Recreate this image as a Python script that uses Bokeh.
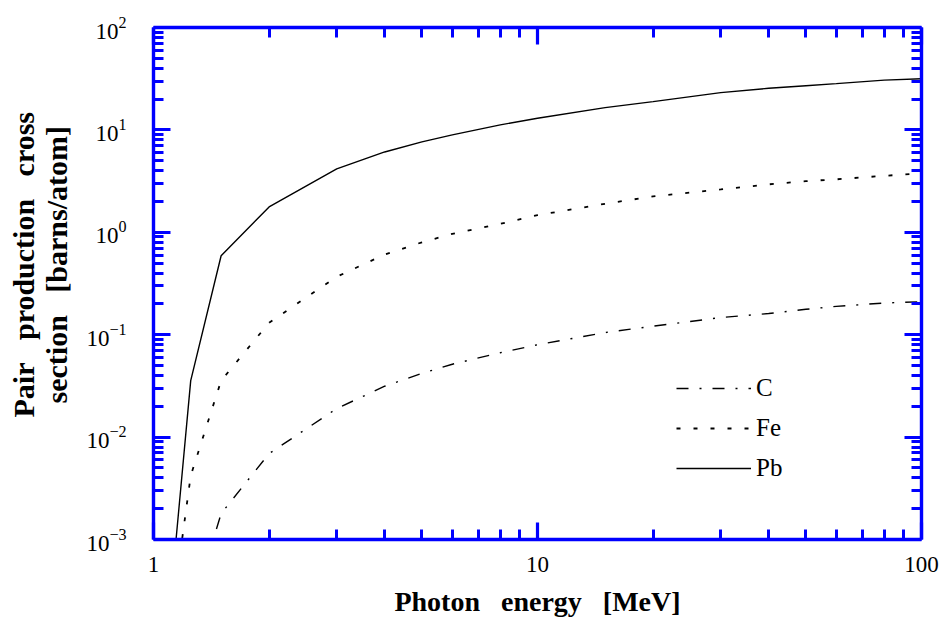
import math
from bokeh.plotting import figure
from bokeh.models import (LogAxis, FixedTicker, Legend, LegendItem, CustomJSTickFormatter,
                          LogTickFormatter, BasicTickFormatter)
from bokeh.embed import file_html
from bokeh.resources import INLINE

# ---------------- data ----------------
energy_mev = [1.022, 1.25, 1.5, 2, 3, 4, 5, 6, 8, 10, 15, 20, 30, 40, 50, 60, 80, 100]
sigma_c = [1.0e-6, 1.9e-4, 1.79e-3, 6.9e-3, 0.0190, 0.0314, 0.0419, 0.0515, 0.0667, 0.0798,
           0.105, 0.121, 0.147, 0.161, 0.177, 0.189, 0.204, 0.210]
sigma_fe = [1.6e-5, 4.2e-3, 0.0356, 0.131, 0.368, 0.607, 0.798, 0.966, 1.21, 1.47,
            1.90, 2.24, 2.62, 2.94, 3.16, 3.29, 3.56, 3.77]
sigma_pb = [1.0e-5, 0.0356, 0.59, 1.77, 4.17, 6.09, 7.64, 8.93, 11.2, 13.0,
            16.5, 18.9, 23.1, 25.5, 27.0, 28.3, 30.6, 31.6]
series_names = ["C", "Fe", "Pb"]

x_tick_values = [1, 10, 100]
y_tick_exponents = [-3, -2, -1, 0, 1, 2]

GAP = "\u00a0\u00a0\u00a0"
LEAD = "\u00a0" * 5   # lifts the centred y title slightly, as in the reference
x_title = GAP.join(["Photon", "energy", "[MeV]"])
y_title = (LEAD + GAP.join(["Pair", "production", "cross"]) + "\n"
           + LEAD + GAP.join(["section", "[barns/atom]"]))

# ---------------- styling ----------------
BLUE = "#0000FF"
FONT = "Liberation Serif"
X_MINOR = [m * 10.0 ** d for d in range(0, 2) for m in range(2, 10)]
Y_MINOR = [m * 10.0 ** d for d in range(-3, 2) for m in range(2, 10)]
Y_MAJOR = [10.0 ** e for e in y_tick_exponents]

p = figure(width=943, height=619, x_axis_type="log", y_axis_type="log",
           x_range=(1, 100), y_range=(1e-3, 1e2),
           output_backend="svg", toolbar_location=None,
           min_border_left=153, min_border_right=22, min_border_top=27, min_border_bottom=80)
p.outline_line_color = None
p.grid.visible = False
p.background_fill_color = "white"
p.border_fill_color = "white"

top_axis = LogAxis()
right_axis = LogAxis()
p.add_layout(top_axis, "above")
p.add_layout(right_axis, "right")


def style_axis(ax, ticks, minor):
    ax.ticker = FixedTicker(ticks=ticks, minor_ticks=minor)
    ax.axis_line_color = BLUE
    ax.axis_line_width = 3.4
    ax.major_tick_line_color = BLUE
    ax.major_tick_line_width = 3.2
    ax.major_tick_in = 17
    ax.major_tick_out = 0
    ax.minor_tick_line_color = BLUE
    ax.minor_tick_line_width = 3
    ax.minor_tick_in = 10
    ax.minor_tick_out = 0
    ax.major_label_text_font = FONT
    ax.major_label_text_color = "black"
    ax.axis_label_text_font = FONT
    ax.axis_label_text_font_style = "bold"
    ax.axis_label_text_color = "black"


style_axis(top_axis, x_tick_values, X_MINOR)
style_axis(right_axis, Y_MAJOR, Y_MINOR)
for ax in (top_axis, right_axis):
    ax.formatter = CustomJSTickFormatter(code="return ''")
    ax.major_label_text_color = None
    ax.major_label_text_font_size = "1px"
    ax.major_label_standoff = 0

xa = p.below[0]
style_axis(xa, x_tick_values, X_MINOR)
xa.formatter = BasicTickFormatter()
xa.major_label_text_font_size = "23px"
xa.major_label_standoff = 17
xa.axis_label = x_title
xa.axis_label_text_font_size = "28px"
xa.axis_label_standoff = 11

ya = p.left[0]
style_axis(ya, Y_MAJOR, Y_MINOR)
ya.formatter = LogTickFormatter()
ya.major_label_text_font_size = "23px"
ya.major_label_standoff = 27
ya.axis_label = y_title
ya.axis_label_text_font_size = "30px"
ya.axis_label_text_line_height = 1.0
ya.axis_label_standoff = 10

# ---------------- curves ----------------
r_c = p.line(energy_mev, sigma_c, line_color="black", line_width=1.4, line_dash="12 11 2 11")
r_fe = p.line(energy_mev, sigma_fe, line_color="black", line_width=1.8, line_dash="4 13")
r_pb = p.line(energy_mev, sigma_pb, line_color="black", line_width=1.4)

legend = Legend(items=[LegendItem(label=series_names[0], renderers=[r_c]),
                       LegendItem(label=series_names[1], renderers=[r_fe]),
                       LegendItem(label=series_names[2], renderers=[r_pb])],
                location=(523, 56), orientation="vertical",
                border_line_color=None, background_fill_alpha=0,
                padding=0, margin=0, glyph_width=75, glyph_height=30,
                label_height=30, label_width=20, spacing=10, label_standoff=5,
                label_text_font=FONT, label_text_font_size="25px",
                label_text_color="black")
p.add_layout(legend)

open("out.html", "w").write(file_html(p, INLINE))
